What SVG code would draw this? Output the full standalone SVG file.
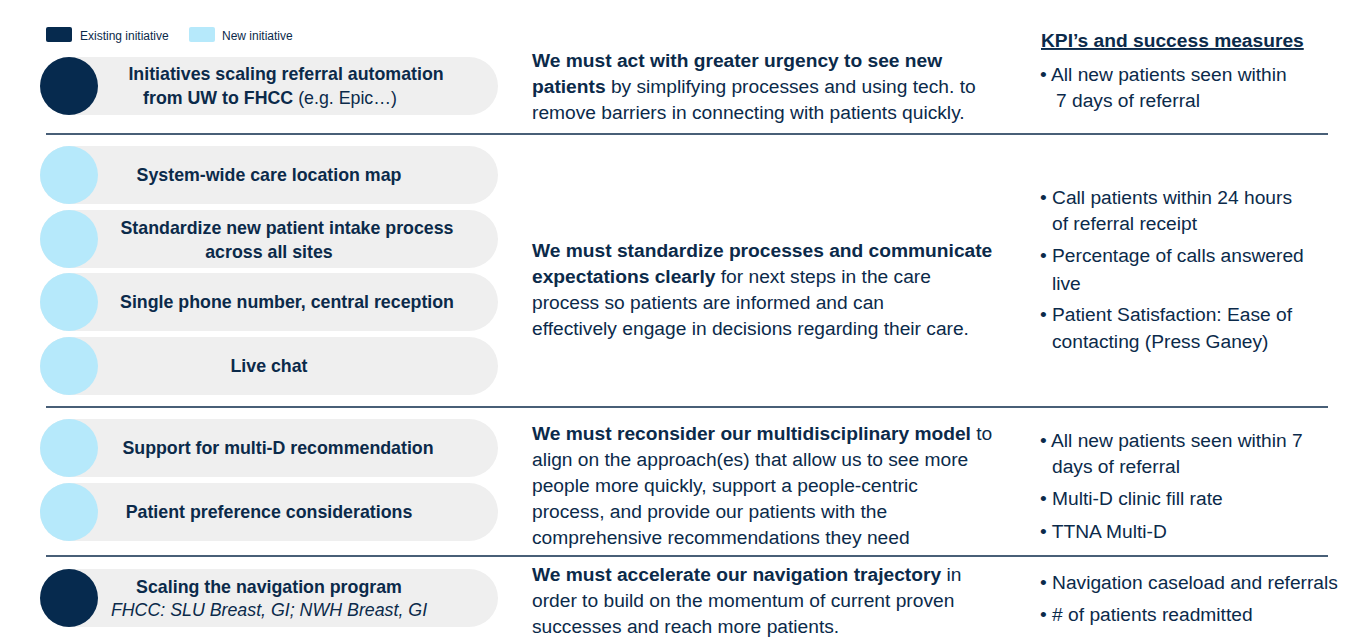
<svg xmlns="http://www.w3.org/2000/svg" width="1370" height="642" viewBox="0 0 1370 642">
<style>
text{font-family:"Liberation Sans",Arial,sans-serif;fill:#0b2a4a}
.pill{fill:#efefef}
.ex{fill:#062a4e}
.nw{fill:#b6e9fb}
.pl{font-size:17.8px;font-weight:bold;text-anchor:middle}
.it{font-weight:normal;font-style:italic}
.m{font-size:19.2px}
.r{font-size:19.2px}
.b{font-weight:bold}
.sep{stroke:#0b2a4a;stroke-width:1.3}
</style>
<rect width="1370" height="642" fill="#fff"/>
<g id="legend">
<rect x="46" y="27" width="26" height="15" rx="2" class="ex"/>
<text x="80" y="40" font-size="12">Existing initiative</text>
<rect x="189" y="27" width="26" height="15" rx="2" class="nw"/>
<text x="222" y="40" font-size="12">New initiative</text>
</g>
<g id="connectors">
<line x1="46" y1="134" x2="1328" y2="134" class="sep"/>
<line x1="46" y1="407" x2="1328" y2="407" class="sep"/>
<line x1="46" y1="556" x2="1328" y2="556" class="sep"/>
</g>
<g id="n1"><rect x="40" y="57" width="458" height="58" rx="29" class="pill"/><circle cx="69" cy="86" r="29" class="ex"/>
<text class="pl" x="286" y="80">Initiatives scaling referral automation</text>
<text class="pl" x="270" y="104">from UW to FHCC <tspan style="font-weight:normal">(e.g. Epic…)</tspan></text></g>
<g id="n2"><rect x="40" y="146" width="458" height="58" rx="29" class="pill"/><circle cx="69" cy="175" r="29" class="nw"/>
<text class="pl" x="269" y="181">System-wide care location map</text></g>
<g id="n3"><rect x="40" y="210" width="458" height="58" rx="29" class="pill"/><circle cx="69" cy="239" r="29" class="nw"/>
<text class="pl" x="287" y="234">Standardize new patient intake process</text>
<text class="pl" x="269" y="258">across all sites</text></g>
<g id="n4"><rect x="40" y="273" width="458" height="58" rx="29" class="pill"/><circle cx="69" cy="302" r="29" class="nw"/>
<text class="pl" x="287" y="308">Single phone number, central reception</text></g>
<g id="n5"><rect x="40" y="337" width="458" height="58" rx="29" class="pill"/><circle cx="69" cy="366" r="29" class="nw"/>
<text class="pl" x="269" y="372">Live chat</text></g>
<g id="n6"><rect x="40" y="419" width="458" height="58" rx="29" class="pill"/><circle cx="69" cy="448" r="29" class="nw"/>
<text class="pl" x="278" y="454">Support for multi-D recommendation</text></g>
<g id="n7"><rect x="40" y="483" width="458" height="58" rx="29" class="pill"/><circle cx="69" cy="512" r="29" class="nw"/>
<text class="pl" x="269" y="518">Patient preference considerations</text></g>
<g id="n8"><rect x="40" y="569" width="458" height="58" rx="29" class="pill"/><circle cx="69" cy="598" r="29" class="ex"/>
<text class="pl" x="269" y="593">Scaling the navigation program</text>
<text class="pl it" x="269" y="616">FHCC: SLU Breast, GI; NWH Breast, GI</text></g>
<g id="mid">
<text class="m" x="532" y="67"><tspan class="b">We must act with greater urgency to see new</tspan></text>
<text class="m" x="532" y="93"><tspan class="b">patients</tspan> by simplifying processes and using tech. to</text>
<text class="m" x="532" y="119">remove barriers in connecting with patients quickly.</text>
<text class="m" x="532" y="257"><tspan class="b">We must standardize processes and communicate</tspan></text>
<text class="m" x="532" y="283"><tspan class="b">expectations clearly</tspan> for next steps in the care</text>
<text class="m" x="532" y="309">process so patients are informed and can</text>
<text class="m" x="532" y="335">effectively engage in decisions regarding their care.</text>
<text class="m" x="532" y="440"><tspan class="b">We must reconsider our multidisciplinary model</tspan> to</text>
<text class="m" x="532" y="466">align on the approach(es) that allow us to see more</text>
<text class="m" x="532" y="492">people more quickly, support a people-centric</text>
<text class="m" x="532" y="518">process, and provide our patients with the</text>
<text class="m" x="532" y="544">comprehensive recommendations they need</text>
<text class="m" x="532" y="581"><tspan class="b">We must accelerate our navigation trajectory</tspan> in</text>
<text class="m" x="532" y="607">order to build on the momentum of current proven</text>
<text class="m" x="532" y="633">successes and reach more patients.</text>
</g>
<g id="kpi">
<text class="r b" x="1041" y="47" text-decoration="underline">KPI’s and success measures</text>
<text class="r" x="1040" y="81">• All new patients seen within</text>
<text class="r" x="1056" y="107">7 days of referral</text>
<text class="r" x="1040" y="204">• Call patients within 24 hours</text>
<text class="r" x="1052" y="230">of referral receipt</text>
<text class="r" x="1040" y="262">• Percentage of calls answered</text>
<text class="r" x="1052" y="290">live</text>
<text class="r" x="1040" y="321">• Patient Satisfaction: Ease of</text>
<text class="r" x="1052" y="348">contacting (Press Ganey)</text>
<text class="r" x="1040" y="447">• All new patients seen within 7</text>
<text class="r" x="1052" y="473">days of referral</text>
<text class="r" x="1040" y="505">• Multi-D clinic fill rate</text>
<text class="r" x="1040" y="538">• TTNA Multi-D</text>
<text class="r" x="1040" y="589">• Navigation caseload and referrals</text>
<text class="r" x="1040" y="621">• # of patients readmitted</text>
</g>
</svg>
